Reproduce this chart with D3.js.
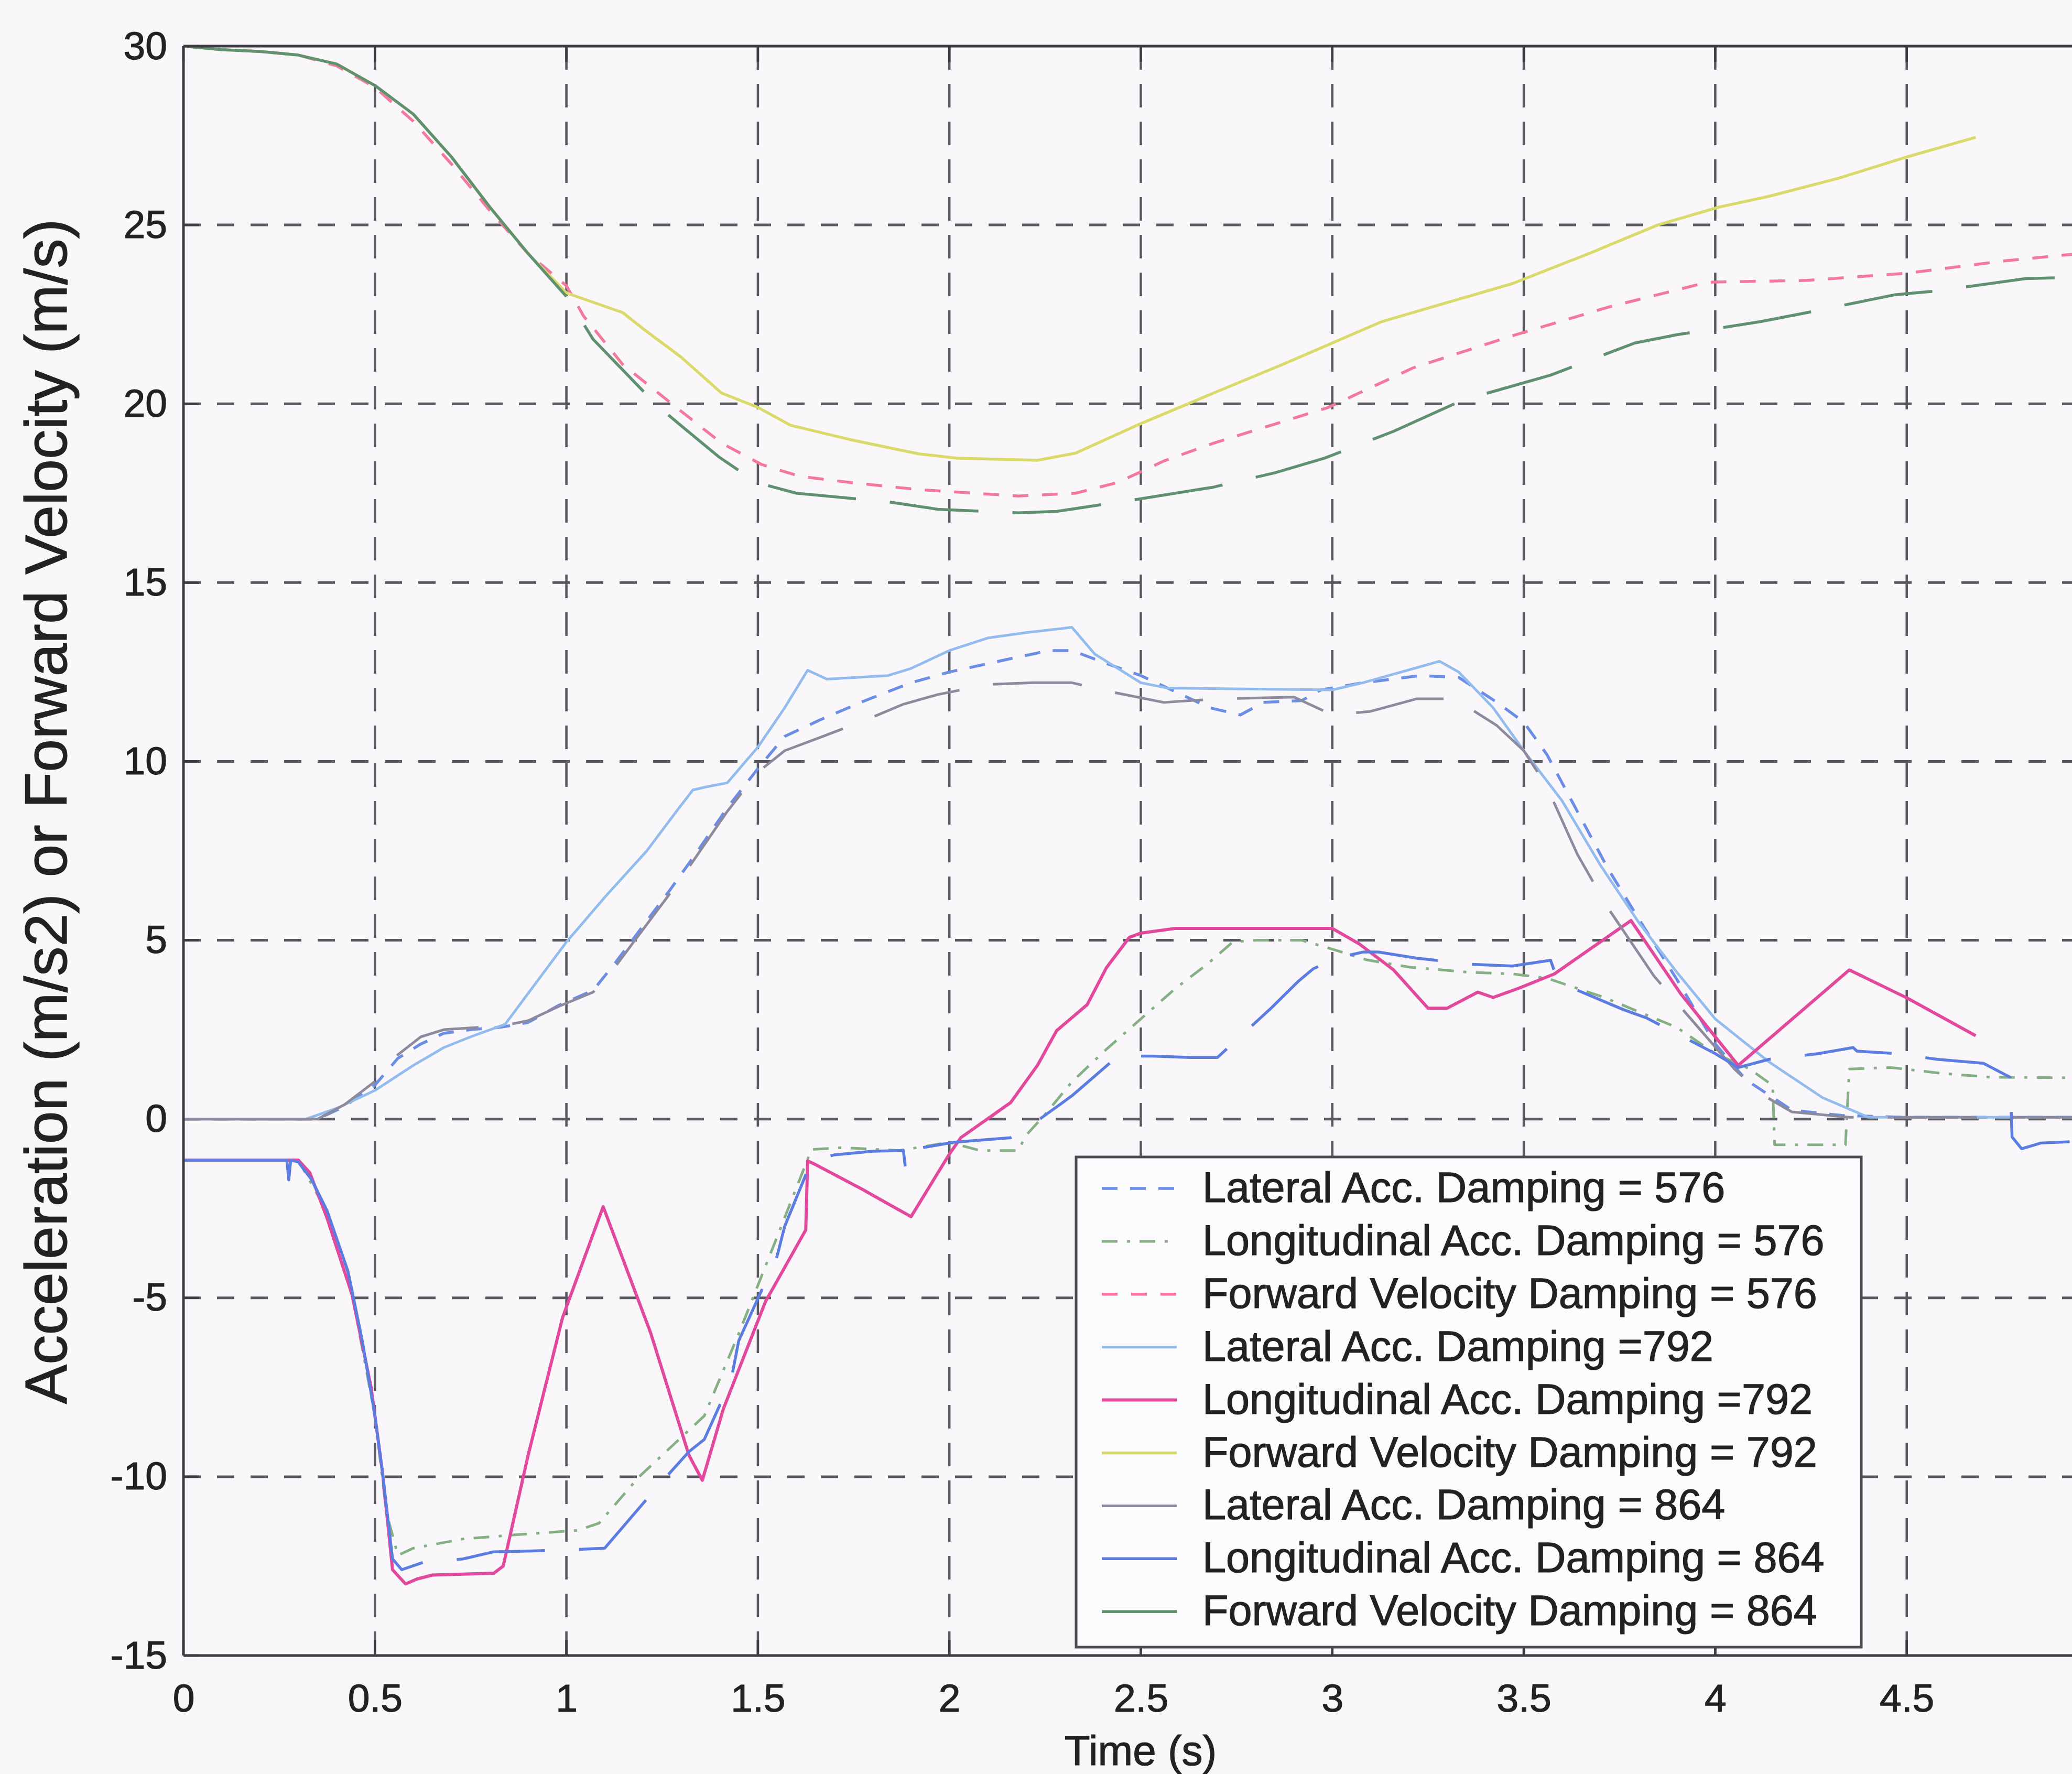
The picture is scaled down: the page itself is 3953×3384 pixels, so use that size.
<!DOCTYPE html>
<html>
<head>
<meta charset="utf-8">
<script src="https://cdn.jsdelivr.net/npm/d3@7"></script>
<style>
  html, body { margin: 0; padding: 0; background: #faf7fb; }
  svg { display: block; }
  text { font-family: "Liberation Sans", Arial, Helvetica, sans-serif; fill: #222; stroke: #222; stroke-width: 1.2px; }
</style>
</head>
<body>
<svg id="chart" width="3953" height="3384"></svg>
<script>
// ---- axis ticks ----
const timeTicks = [0, 0.5, 1, 1.5, 2, 2.5, 3, 3.5, 4, 4.5];
const valueTicks = [-15, -10, -5, 0, 5, 10, 15, 20, 25, 30];

// ---- legend labels ----
const seriesLabels = [
  "Lateral Acc. Damping = 576",
  "Longitudinal Acc. Damping = 576",
  "Forward Velocity Damping = 576",
  "Lateral Acc. Damping =792",
  "Longitudinal Acc. Damping =792",
  "Forward Velocity Damping = 792",
  "Lateral Acc. Damping = 864",
  "Longitudinal Acc. Damping = 864",
  "Forward Velocity Damping = 864"
];

// ---- series: [time (s), value] ----
const latAcc576 = [[0,0],[0.35,0],[0.42,0.35],[0.5,0.95],[0.56,1.7],[0.62,2.1],[0.68,2.4],[0.75,2.5],[0.83,2.57],[0.9,2.7],[0.98,3.18],[1.07,3.6],[1.13,4.4],[1.2,5.4],[1.27,6.4],[1.33,7.3],[1.42,8.7],[1.5,9.8],[1.57,10.7],[1.66,11.15],[1.78,11.7],[1.9,12.2],[2.0,12.5],[2.15,12.85],[2.26,13.1],[2.32,13.1],[2.42,12.7],[2.5,12.4],[2.57,12.05],[2.68,11.5],[2.76,11.3],[2.82,11.65],[2.92,11.7],[2.97,12.0],[3.08,12.2],[3.23,12.4],[3.33,12.35],[3.43,11.65],[3.5,11.1],[3.56,10.2],[3.64,8.6],[3.72,7.0],[3.8,5.6],[3.9,3.9],[4.0,2.1],[4.08,1.1],[4.2,0.25],[4.33,0.1],[4.5,0.05],[5.0,0.05]];
const longAcc576 = [[0,-1.15],[0.3,-1.15],[0.375,-2.6],[0.43,-4.3],[0.5,-8.3],[0.53,-11.0],[0.56,-12.2],[0.6,-12.0],[0.73,-11.74],[0.86,-11.63],[1.03,-11.5],[1.085,-11.3],[1.19,-10.0],[1.26,-9.3],[1.36,-8.3],[1.45,-6.0],[1.55,-3.3],[1.64,-0.85],[1.72,-0.8],[1.87,-0.88],[2.0,-0.65],[2.08,-0.88],[2.18,-0.88],[2.2,-0.46],[2.25,0.13],[2.32,1.04],[2.41,1.95],[2.5,2.8],[2.59,3.65],[2.67,4.3],[2.74,4.95],[2.8,5.0],[2.92,5.0],[3.0,4.75],[3.09,4.45],[3.2,4.25],[3.36,4.1],[3.47,4.06],[3.56,3.94],[3.71,3.4],[3.9,2.56],[4.0,1.83],[4.09,1.4],[4.15,0.94],[4.155,-0.72],[4.34,-0.72],[4.35,1.4],[4.46,1.44],[4.59,1.28],[4.72,1.17],[5.0,1.15]];
const fwdVel576 = [[0,30],[0.1,29.9],[0.2,29.85],[0.3,29.75],[0.4,29.45],[0.5,28.85],[0.6,27.9],[0.7,26.7],[0.8,25.4],[0.9,24.2],[1.0,23.3],[1.045,22.45],[1.147,21.1],[1.275,20.0],[1.405,18.9],[1.51,18.3],[1.61,17.97],[1.74,17.8],[1.92,17.6],[2.18,17.42],[2.33,17.5],[2.44,17.8],[2.56,18.4],[2.69,18.9],[2.99,19.9],[3.21,21.0],[3.47,21.9],[3.72,22.7],[3.98,23.4],[4.24,23.45],[4.5,23.65],[4.76,24.0],[5.0,24.25]];

const latAcc792 = [[0,0],[0.32,0],[0.4,0.3],[0.5,0.8],[0.6,1.5],[0.68,2.0],[0.75,2.3],[0.84,2.65],[1.0,4.95],[1.1,6.2],[1.21,7.5],[1.28,8.5],[1.33,9.2],[1.37,9.3],[1.42,9.4],[1.5,10.4],[1.57,11.5],[1.63,12.55],[1.68,12.3],[1.84,12.4],[1.9,12.6],[2.0,13.1],[2.1,13.45],[2.2,13.6],[2.32,13.75],[2.38,13.0],[2.5,12.2],[2.57,12.05],[3.0,12.0],[3.08,12.2],[3.28,12.8],[3.33,12.5],[3.42,11.5],[3.5,10.3],[3.6,8.9],[3.7,7.1],[3.8,5.5],[3.9,4.1],[4.0,2.8],[4.14,1.6],[4.28,0.6],[4.4,0.05],[5.0,0.05]];
const longAcc792 = [[0,-1.15],[0.3,-1.15],[0.33,-1.5],[0.375,-2.77],[0.44,-4.9],[0.49,-7.5],[0.52,-9.9],[0.546,-12.6],[0.58,-13.0],[0.61,-12.86],[0.65,-12.75],[0.81,-12.7],[0.835,-12.5],[0.9,-9.4],[0.99,-5.55],[1.096,-2.45],[1.22,-5.98],[1.32,-9.4],[1.355,-10.1],[1.41,-8.1],[1.52,-5.1],[1.625,-3.1],[1.63,-1.17],[1.65,-1.27],[1.77,-1.95],[1.9,-2.73],[2.0,-0.98],[2.03,-0.52],[2.16,0.46],[2.23,1.5],[2.28,2.47],[2.36,3.2],[2.41,4.23],[2.47,5.08],[2.5,5.2],[2.59,5.33],[3.0,5.33],[3.07,4.9],[3.16,4.17],[3.25,3.1],[3.3,3.1],[3.38,3.55],[3.42,3.4],[3.49,3.67],[3.58,4.06],[3.78,5.55],[3.91,3.5],[4.06,1.5],[4.35,4.17],[4.5,3.39],[4.68,2.33]];
const fwdVel792 = [[0,30],[0.1,29.9],[0.2,29.85],[0.3,29.75],[0.4,29.5],[0.5,28.9],[0.6,28.1],[0.7,26.9],[0.8,25.5],[0.9,24.2],[1.0,23.1],[1.147,22.55],[1.2,22.1],[1.3,21.3],[1.405,20.3],[1.5,19.9],[1.585,19.4],[1.74,19.0],[1.92,18.6],[2.02,18.48],[2.23,18.42],[2.33,18.62],[2.49,19.4],[2.69,20.3],[2.87,21.1],[3.13,22.3],[3.47,23.36],[3.67,24.2],[3.85,25.0],[4.01,25.5],[4.14,25.8],[4.32,26.3],[4.5,26.9],[4.68,27.45]];

const latAcc864 = [[0,0],[0.35,0],[0.42,0.4],[0.5,1.05],[0.56,1.8],[0.62,2.3],[0.68,2.5],[0.75,2.55],[0.83,2.6],[0.9,2.75],[0.98,3.15],[1.07,3.55],[1.13,4.3],[1.2,5.3],[1.27,6.3],[1.33,7.2],[1.42,8.6],[1.5,9.7],[1.57,10.3],[1.67,10.7],[1.78,11.15],[1.88,11.6],[1.97,11.87],[2.1,12.15],[2.22,12.2],[2.32,12.2],[2.42,11.95],[2.56,11.65],[2.7,11.75],[2.9,11.8],[3.0,11.3],[3.1,11.4],[3.22,11.75],[3.32,11.75],[3.43,11.0],[3.5,10.3],[3.56,9.3],[3.64,7.4],[3.72,5.9],[3.84,4.0],[3.92,3.0],[4.05,1.4],[4.12,0.7],[4.2,0.2],[4.35,0.05],[5.0,0.05]];
const longAcc864 = [[0,-1.15],[0.27,-1.15],[0.275,-1.7],[0.28,-1.15],[0.3,-1.2],[0.335,-1.7],[0.375,-2.56],[0.43,-4.27],[0.467,-6.2],[0.5,-8.3],[0.52,-9.9],[0.546,-12.3],[0.57,-12.6],[0.625,-12.4],[0.73,-12.3],[0.81,-12.1],[0.97,-12.06],[1.1,-12.0],[1.24,-10.25],[1.32,-9.3],[1.36,-8.96],[1.43,-7.3],[1.45,-6.2],[1.55,-3.84],[1.57,-3.0],[1.64,-1.17],[1.7,-1.0],[1.8,-0.9],[1.88,-0.88],[1.885,-1.35],[1.89,-0.88],[1.93,-0.8],[2.01,-0.65],[2.16,-0.52],[2.2,-0.26],[2.24,0.03],[2.32,0.65],[2.44,1.76],[2.53,1.76],[2.63,1.72],[2.7,1.72],[2.84,3.1],[2.91,3.84],[2.95,4.2],[3.01,4.5],[3.08,4.67],[3.12,4.67],[3.22,4.5],[3.36,4.33],[3.47,4.28],[3.57,4.44],[3.59,3.83],[3.76,3.06],[3.82,2.83],[4.0,1.83],[4.06,1.44],[4.14,1.67],[4.27,1.83],[4.36,2.0],[4.37,1.9],[4.47,1.83],[4.58,1.67],[4.7,1.56],[4.77,1.17],[4.775,-0.5],[4.8,-0.83],[4.85,-0.67],[5.0,-0.6]];
const fwdVel864 = [[0,30],[0.1,29.9],[0.2,29.85],[0.3,29.75],[0.4,29.5],[0.5,28.9],[0.6,28.1],[0.7,26.9],[0.8,25.5],[0.9,24.2],[1.0,23.0],[1.07,21.8],[1.237,19.95],[1.315,19.25],[1.4,18.5],[1.496,17.8],[1.6,17.5],[1.84,17.26],[1.97,17.05],[2.18,16.95],[2.28,16.99],[2.51,17.36],[2.69,17.67],[2.85,18.07],[2.98,18.48],[3.16,19.23],[3.34,20.1],[3.57,20.8],[3.79,21.7],[3.9,21.93],[4.12,22.3],[4.24,22.55],[4.47,23.05],[4.575,23.15],[4.81,23.5],[5.0,23.55]];

// ---- line styles ----
const series = [
  { data: latAcc576,  color: "#6a8ee6", width: 5.5, dash: "30,24" },
  { data: longAcc576, color: "#84b084", width: 5,   dash: "30,18,6,18" },
  { data: fwdVel576,  color: "#f3789c", width: 5.5, dash: "30,26" },
  { data: latAcc792,  color: "#92bbee", width: 5,   dash: null },
  { data: longAcc792, color: "#e2489c", width: 6,   dash: null },
  { data: fwdVel792,  color: "#d9da6a", width: 5.5, dash: null },
  { data: latAcc864,  color: "#8e8a9e", width: 5,   dash: "170,65", solidUntil: 0.5 },
  { data: longAcc864, color: "#5b7de2", width: 5.5, dash: "170,65", solidUntil: 0.625 },
  { data: fwdVel864,  color: "#5f9070", width: 5.5, dash: "170,65", solidUntil: 1.0 }
];

// ---- layout ----
const W = 3953, H = 3384;
const plotLeft = 350, plotTop = 88, plotRight = 4003, plotBottom = 3158;

const svg = d3.select("#chart");
svg.append("rect").attr("width", W).attr("height", H).attr("fill", "#faf7fb");

const x = d3.scaleLinear().domain([0, 5]).range([plotLeft, plotRight]);
const y = d3.scaleLinear().domain([-15, 30]).range([plotBottom, plotTop]);

svg.append("defs").append("clipPath").attr("id", "plot-clip")
  .append("rect").attr("x", plotLeft).attr("y", plotTop)
  .attr("width", plotRight - plotLeft).attr("height", plotBottom - plotTop);

// grid
const grid = svg.append("g").attr("stroke", "#58585f").attr("stroke-width", 5);
grid.selectAll("line.h").data(valueTicks.filter(v => v > -15 && v < 30)).join("line")
  .attr("class", "h")
  .attr("x1", plotLeft).attr("x2", plotRight)
  .attr("y1", d => y(d)).attr("y2", d => y(d))
  .attr("stroke-dasharray", "33,31");
grid.selectAll("line.v").data(timeTicks.filter(t => t > 0)).join("line")
  .attr("class", "v")
  .attr("x1", d => x(d)).attr("x2", d => x(d))
  .attr("y1", plotTop).attr("y2", plotBottom)
  .attr("stroke-width", 4.5)
  .attr("stroke-dasharray", "45,27");

// inward tick marks
const ticks = svg.append("g").attr("stroke", "#3c3c44").attr("stroke-width", 4.5);
timeTicks.forEach(t => {
  ticks.append("line").attr("x1", x(t)).attr("x2", x(t)).attr("y1", plotTop).attr("y2", plotTop + 30);
  ticks.append("line").attr("x1", x(t)).attr("x2", x(t)).attr("y1", plotBottom).attr("y2", plotBottom - 30);
});
valueTicks.forEach(v => {
  ticks.append("line").attr("x1", plotLeft).attr("x2", plotLeft + 30).attr("y1", y(v)).attr("y2", y(v));
});

// data lines
const line = d3.line().x(d => x(d[0])).y(d => y(d[1]));
const plot = svg.append("g").attr("clip-path", "url(#plot-clip)").attr("fill", "none")
  .attr("stroke-linejoin", "round");

series.forEach(s => {
  if (s.solidUntil != null) {
    let idx = s.data.findIndex(d => d[0] >= s.solidUntil);
    if (idx < 0) idx = s.data.length - 1;
    plot.append("path").attr("d", line(s.data.slice(0, idx + 1)))
      .attr("stroke", s.color).attr("stroke-width", s.width);
    plot.append("path").attr("d", line(s.data.slice(idx)))
      .attr("stroke", s.color).attr("stroke-width", s.width)
      .attr("stroke-dasharray", s.dash).attr("stroke-dashoffset", 170);
  } else {
    const p = plot.append("path").attr("d", line(s.data))
      .attr("stroke", s.color).attr("stroke-width", s.width);
    if (s.dash) p.attr("stroke-dasharray", s.dash);
  }
});

// axes box (right edge lies beyond the canvas)
const box = svg.append("g").attr("stroke", "#3c3c44").attr("stroke-width", 5).attr("fill", "none");
box.append("line").attr("x1", plotLeft).attr("x2", plotRight).attr("y1", plotTop).attr("y2", plotTop);
box.append("line").attr("x1", plotLeft).attr("x2", plotRight).attr("y1", plotBottom).attr("y2", plotBottom);
box.append("line").attr("x1", plotLeft).attr("x2", plotLeft).attr("y1", plotTop).attr("y2", plotBottom);

// tick labels
const yAxis = svg.append("g").attr("transform", `translate(${plotLeft},0)`)
  .call(d3.axisLeft(y).tickValues(valueTicks).tickSize(0).tickPadding(31).tickFormat(d => String(d)));
const xAxis = svg.append("g").attr("transform", `translate(0,${plotBottom})`)
  .call(d3.axisBottom(x).tickValues(timeTicks).tickSize(0).tickPadding(54).tickFormat(d => String(d)));
[yAxis, xAxis].forEach(g => {
  g.select(".domain").remove();
  g.selectAll("text").attr("font-size", 75)
    .attr("font-family", "'Liberation Sans', Arial, Helvetica, sans-serif")
    .attr("fill", "#222");
});

// axis titles
svg.append("text")
  .attr("transform", "translate(127,1548) rotate(-90)")
  .attr("text-anchor", "middle").attr("font-size", 113)
  .text("Acceleration (m/s2) or Forward Velocity (m/s)");
svg.append("text")
  .attr("x", 2176).attr("y", 3367)
  .attr("text-anchor", "middle").attr("font-size", 80)
  .text("Time (s)");

// legend
const lg = svg.append("g");
lg.append("rect").attr("x", 2053).attr("y", 2207).attr("width", 1498).attr("height", 935)
  .attr("fill", "#fcfbfd").attr("stroke", "#4a4a52").attr("stroke-width", 5);
series.forEach((s, i) => {
  const base = 2293 + i * 100.9;
  const l = lg.append("line").attr("x1", 2102).attr("x2", 2245)
    .attr("y1", base - 26).attr("y2", base - 26)
    .attr("stroke", s.color).attr("stroke-width", s.width);
  if (s.dash && s.solidUntil == null) l.attr("stroke-dasharray", s.dash);
  lg.append("text").attr("x", 2294).attr("y", base).attr("font-size", 81).text(seriesLabels[i]);
});
</script>
</body>
</html>
